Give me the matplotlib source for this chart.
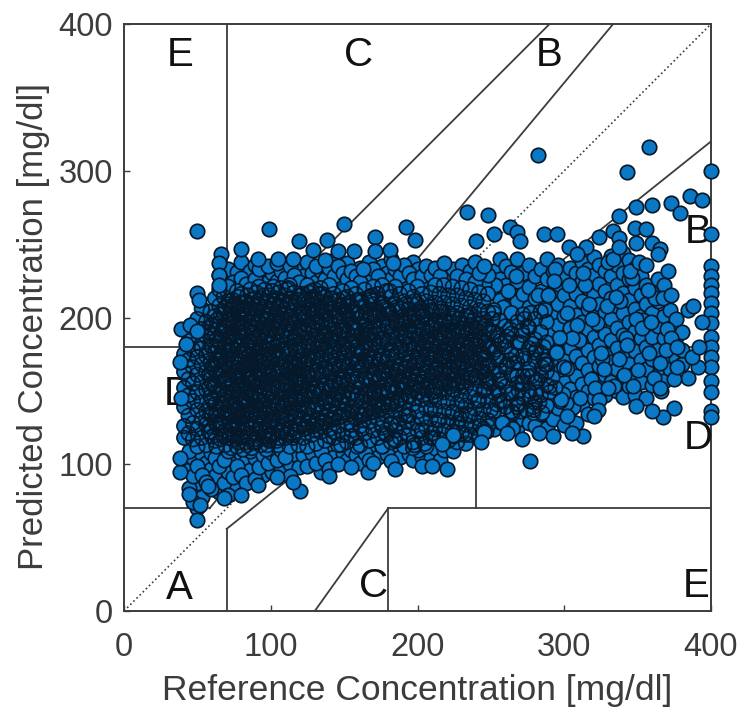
import matplotlib
matplotlib.use("Agg")
import matplotlib.pyplot as plt

plt.rcParams['font.family'] = ['Liberation Sans', 'DejaVu Sans']

GRAY = '#3c3c3c'
FILL = '#0b78c6'
EDGE = '#06192b'
MS = 108
LW = 1.25

# one x value -> the y values seen around it
left_columns = {
    41: [101, 118, 126, 139, 152, 163, 175],
    44: [84, 96, 109, 121, 133, 147, 158, 171, 184],
    47: [76, 92, 104, 117, 128, 143, 155, 166, 178, 188],
    50: [70, 87, 99, 112, 124, 137, 149, 161, 173, 183, 199],
    53: [78, 93, 106, 118, 131, 142, 156, 168, 179, 192, 206],
    56: [88, 101, 113, 127, 136, 151, 163, 174, 187, 197],
    59: [83, 97, 108, 122, 134, 146, 158, 169, 181, 193, 204],
    62: [92, 104, 116, 129, 141, 153, 165, 176, 188, 201, 213],
    65: [81, 99, 111, 124, 137, 148, 160, 172, 183, 196, 208, 219, 229],
    68: [87, 103, 119, 131, 144, 156, 167, 179, 191, 203, 214, 226],
    71: [79, 95, 109, 122, 135, 149, 161, 174, 186, 198, 209, 221, 233],
    74: [91, 105, 117, 128, 142, 154, 166, 178, 189, 201, 212, 224],
    77: [84, 99, 112, 125, 138, 151, 163, 173, 185, 196, 207, 218, 231],
    80: [93, 107, 119, 133, 145, 157, 170, 181, 193, 204, 216, 227, 238],
    83: [87, 102, 115, 128, 140, 152, 164, 176, 188, 199, 211, 223],
    86: [96, 109, 121, 134, 147, 159, 171, 183, 194, 206, 219, 232],
    89: [90, 104, 117, 130, 142, 155, 167, 178, 190, 202, 213, 226, 236],
    92: [98, 111, 124, 137, 149, 161, 173, 185, 197, 209, 221, 233],
    95: [93, 106, 119, 131, 143, 156, 168, 180, 192, 203, 215, 228],
    98: [101, 113, 126, 139, 151, 163, 175, 187, 199, 211, 224, 235],
    101: [95, 108, 121, 134, 146, 158, 170, 182, 194, 206, 218, 230],
    104: [103, 116, 128, 141, 153, 165, 177, 189, 201, 213, 225, 237],
    107: [97, 110, 123, 136, 148, 160, 172, 184, 196, 208, 220, 232],
    110: [105, 118, 130, 143, 155, 167, 179, 191, 203, 215, 227],
    113: [92, 100, 112, 125, 138, 150, 162, 174, 186, 198, 210, 222, 235],
    116: [107, 120, 132, 145, 157, 169, 181, 193, 205, 217, 229],
    119: [98, 113, 127, 140, 152, 164, 176, 188, 200, 212, 224, 236],
}
middle_columns = {
    122: [106, 118, 131, 144, 156, 168, 180, 192, 204, 216, 228],
    125: [99, 112, 125, 138, 150, 162, 174, 186, 198, 210, 222, 238],
    128: [108, 120, 133, 146, 158, 170, 182, 194, 206, 218, 230],
    131: [101, 114, 127, 140, 152, 164, 176, 188, 200, 212, 224, 235],
    134: [95, 109, 122, 135, 148, 160, 172, 184, 196, 208, 220, 232],
    137: [103, 116, 129, 142, 154, 166, 178, 190, 202, 214, 226],
    140: [97, 111, 124, 137, 150, 162, 174, 186, 198, 210, 222, 234],
    143: [105, 118, 131, 144, 156, 168, 180, 192, 204, 216, 228, 239],
    146: [100, 113, 126, 139, 152, 164, 176, 188, 200, 212, 224, 235],
    149: [108, 120, 133, 146, 158, 170, 182, 194, 206, 218, 230],
    152: [103, 115, 128, 141, 154, 166, 178, 190, 202, 214, 226, 237],
    155: [98, 110, 123, 136, 148, 160, 172, 184, 196, 208, 220, 232],
    158: [106, 118, 131, 144, 156, 168, 180, 192, 204, 216, 228],
    161: [101, 113, 126, 139, 152, 164, 176, 188, 200, 212, 224, 234],
    164: [108, 121, 134, 147, 159, 171, 183, 195, 207, 219, 231],
    167: [103, 116, 129, 142, 154, 166, 178, 190, 202, 214, 226, 238],
    170: [110, 123, 136, 149, 161, 173, 185, 197, 209, 221, 233],
    173: [105, 118, 131, 144, 156, 168, 180, 192, 204, 216, 228],
    176: [112, 125, 138, 150, 162, 174, 186, 198, 210, 222, 235],
    179: [107, 120, 133, 146, 158, 170, 182, 194, 206, 218, 230],
    182: [102, 115, 128, 141, 154, 166, 178, 190, 202, 214, 226, 240],
    185: [110, 123, 136, 149, 161, 173, 185, 197, 209, 221, 233],
    188: [105, 118, 131, 144, 156, 168, 180, 192, 204, 216, 228],
    191: [112, 125, 138, 151, 163, 175, 187, 199, 211, 223, 236],
    194: [107, 120, 133, 146, 158, 170, 182, 194, 206, 218, 230],
    197: [103, 115, 128, 141, 154, 166, 178, 190, 202, 214, 226, 238],
    200: [110, 123, 136, 149, 161, 173, 185, 197, 209, 221, 233],
    203: [99, 105, 118, 131, 144, 156, 168, 180, 192, 204, 216, 228],
    206: [112, 125, 138, 151, 163, 175, 187, 199, 211, 223, 235],
    209: [104, 118, 131, 144, 157, 169, 181, 193, 205, 217, 229],
    212: [111, 124, 137, 150, 162, 174, 186, 198, 210, 222, 234],
    215: [103, 117, 130, 143, 156, 168, 180, 192, 204, 216, 228],
    218: [110, 123, 136, 149, 162, 174, 186, 198, 210, 222, 237],
    221: [116, 129, 142, 155, 167, 179, 191, 203, 215, 227],
    224: [109, 122, 135, 148, 161, 173, 185, 197, 209, 221, 233],
    227: [115, 128, 141, 154, 167, 179, 191, 203, 215, 228],
    230: [121, 134, 147, 160, 172, 184, 196, 208, 220, 236],
    233: [114, 127, 140, 153, 165, 177, 189, 201, 213, 226],
    236: [120, 133, 146, 159, 171, 183, 195, 207, 219, 232],
    239: [125, 138, 151, 164, 176, 188, 200, 212, 224, 238],
    242: [118, 131, 144, 157, 169, 181, 193, 205, 217, 230],
    245: [124, 137, 150, 163, 175, 187, 199, 211, 223, 235],
    248: [130, 143, 156, 168, 180, 192, 204, 216, 229],
}
right_columns = {
    252: [124, 136, 149, 162, 176, 190, 203, 217, 232],
    256: [129, 143, 157, 171, 184, 198, 212, 226, 240],
    260: [126, 139, 153, 166, 180, 194, 208, 222, 235],
    264: [134, 148, 161, 175, 189, 203, 217, 231],
    268: [125, 141, 155, 169, 183, 197, 211, 225, 240],
    272: [131, 145, 160, 174, 188, 202, 216, 230],
    276: [128, 150, 165, 179, 193, 207, 221, 236],
    280: [126, 142, 156, 171, 185, 199, 213, 228],
    284: [134, 147, 161, 176, 190, 204, 218, 233],
    288: [125, 140, 154, 168, 183, 197, 211, 226, 240],
    292: [131, 146, 160, 175, 189, 203, 217, 232],
    296: [138, 152, 167, 181, 195, 209, 223, 236],
    300: [127, 144, 158, 172, 187, 201, 215, 229],
    304: [137, 151, 165, 179, 193, 208, 222, 234],
    308: [128, 146, 160, 174, 188, 202, 216, 230],
    312: [141, 155, 169, 183, 197, 211, 225, 238],
    316: [134, 150, 164, 178, 192, 206, 220, 233],
    320: [145, 159, 173, 187, 201, 215, 229, 241],
    324: [153, 167, 181, 195, 209, 223, 236],
    328: [147, 161, 175, 189, 204, 218, 232],
    332: [156, 170, 185, 199, 213, 228, 242],
    336: [150, 165, 179, 193, 208, 222, 236],
    340: [146, 159, 173, 188, 203, 217, 230, 244],
    344: [153, 168, 182, 197, 212, 226, 239],
    348: [147, 162, 177, 191, 206, 220, 234],
    352: [156, 171, 186, 201, 215, 228],
    356: [145, 165, 180, 195, 209, 222],
    360: [154, 172, 187, 203, 217],
    364: [161, 178, 194, 211, 226],
    368: [157, 170, 186, 201, 222],
    372: [165, 180, 193, 205],
    376: [172, 187, 199],
    380: [168, 178, 190],
}

# the black middle of the cloud, outlines stay visible here
core_columns = {
    58: [126, 139, 152, 161, 176, 190],
    60: [119, 133, 144, 155, 166, 180, 195],
    63: [112, 127, 136, 149, 162, 171, 185, 198],
    66: [117, 129, 142, 151, 164, 175, 189, 202],
    69: [113, 123, 135, 147, 158, 169, 182, 194, 207],
    72: [118, 128, 140, 153, 165, 177, 186, 199, 211],
    73: [111, 124, 133, 146, 157, 172, 181, 193, 205],
    75: [120, 130, 139, 150, 162, 170, 184, 197, 209],
    78: [115, 126, 137, 148, 159, 168, 180, 191, 202, 214],
    79: [118, 131, 141, 153, 164, 175, 187, 199, 210],
    81: [110, 122, 134, 144, 155, 166, 177, 186, 196, 206],
    84: [113, 127, 136, 149, 160, 169, 181, 192, 203, 215],
    85: [119, 130, 141, 151, 162, 174, 184, 197, 208],
    87: [111, 124, 135, 146, 156, 168, 179, 189, 200, 212],
    90: [115, 128, 138, 148, 159, 172, 182, 193, 205, 217],
    91: [121, 133, 144, 153, 165, 176, 187, 198, 209],
    93: [113, 126, 136, 147, 158, 169, 180, 190, 201, 213],
    96: [118, 129, 140, 151, 162, 173, 184, 195, 207, 219],
    97: [110, 123, 134, 145, 155, 166, 178, 188, 199, 211],
    99: [116, 127, 138, 149, 160, 171, 182, 192, 204, 215],
    102: [120, 131, 142, 153, 164, 175, 186, 197, 209, 221],
    105: [118, 129, 140, 151, 162, 172, 183, 194, 206, 217],
    108: [122, 133, 144, 155, 166, 177, 188, 199, 211],
    111: [120, 131, 142, 153, 164, 175, 186, 196, 208, 219],
    114: [124, 135, 146, 157, 168, 179, 190, 201, 213],
    117: [122, 133, 144, 155, 166, 177, 188, 198, 210],
    120: [126, 137, 148, 159, 170, 181, 192, 203, 215],
    123: [124, 135, 146, 157, 168, 179, 190, 200, 212],
    126: [128, 139, 150, 161, 172, 183, 194, 205, 217],
    129: [126, 137, 148, 159, 170, 181, 192, 202, 214],
    132: [130, 141, 152, 163, 174, 185, 196, 207],
    135: [128, 139, 150, 161, 172, 183, 194, 204, 216],
    138: [132, 143, 154, 165, 176, 187, 198, 209],
    141: [130, 141, 152, 163, 174, 185, 196, 206],
    144: [134, 145, 156, 167, 178, 189, 200, 211],
    147: [132, 143, 154, 165, 176, 187, 198, 208],
    150: [136, 147, 158, 169, 180, 191, 202, 213],
    153: [134, 145, 156, 167, 178, 189, 200, 210],
    156: [138, 149, 160, 171, 182, 193, 204],
    159: [136, 147, 158, 169, 180, 191, 202, 212],
    162: [133, 145, 156, 167, 178, 189, 200, 211],
    165: [137, 148, 159, 170, 181, 192, 203],
    168: [135, 146, 157, 168, 179, 190, 201, 212],
    171: [139, 150, 161, 172, 183, 194, 205],
    174: [137, 148, 159, 170, 181, 192, 203],
    177: [141, 152, 163, 174, 185, 196, 207],
    180: [139, 150, 161, 172, 183, 194, 205],
    183: [143, 154, 165, 176, 187, 198],
    186: [141, 152, 163, 174, 185, 196, 207],
    189: [145, 156, 167, 178, 189, 200],
    192: [143, 154, 165, 176, 187, 198, 209],
    195: [147, 158, 169, 180, 191, 202],
    198: [145, 156, 167, 178, 189, 200, 211],
    201: [149, 160, 171, 182, 193, 204],
    204: [147, 158, 169, 180, 191, 202],
    207: [151, 162, 173, 184, 195],
    210: [149, 160, 171, 182, 193, 204],
    213: [153, 164, 175, 186, 197],
    216: [151, 162, 173, 184, 195, 206],
    219: [155, 166, 177, 188, 199],
    222: [153, 164, 175, 186, 197],
    225: [157, 168, 179, 190, 201],
    228: [155, 166, 177, 188, 199],
    231: [159, 170, 181, 192],
    234: [157, 168, 179, 190, 201],
    237: [161, 172, 183, 194],
    240: [159, 170, 181, 192],
    243: [163, 174, 185, 196],
    246: [161, 172, 183, 194],
    249: [155, 168, 179, 190],
}

# scattered by hand over the dark area, breaks up the rows of the columns
scatter_ref = [63, 148, 211, 97, 254, 176, 122, 83, 233, 159, 71, 268, 191, 108, 224, 139, 287, 67, 203, 116,
               249, 171, 93, 278, 155, 218, 76, 130, 262, 187, 102, 241, 166, 58, 295, 144, 208, 88, 256, 126,
               181, 229, 74, 272, 151, 113, 197, 247, 135, 61, 283, 168, 216, 99, 238, 119, 264, 184, 80, 300,
               146, 206, 105, 252, 173, 65, 226, 133, 290, 194, 86, 243, 157, 275, 110, 214, 69, 260, 178, 124,
               236, 95, 200, 142, 281, 162, 78, 250, 189, 115, 221, 137, 267, 91, 231, 153, 297, 72, 209, 128,
               258, 183, 103, 244, 164, 285, 121, 195, 84, 270, 149, 222, 66, 255, 175, 111, 240, 140, 292, 199,
               89, 228, 160, 277, 107, 213, 131, 263, 186, 76, 247, 169, 98, 234, 145, 302, 205, 118, 273, 155,
               62, 219, 192, 126, 259, 178, 82, 242, 136, 286, 167, 100, 227, 202, 70, 253, 148, 113, 279, 190,
               237, 94, 163, 268, 130, 212, 75, 245, 181, 143, 294, 106, 224, 158, 265, 87, 197, 120, 251, 172,
               64, 232, 152, 282, 109, 207, 134, 261, 185, 79, 239, 166, 96, 274, 147, 217, 123, 256, 193, 68,
               288, 176, 101, 230, 141, 248, 90, 203, 271, 161, 116, 225, 73, 257, 187, 129, 298, 150, 210, 85,
               266, 170, 104, 235, 138, 280, 198, 60, 246, 156, 112, 220, 182, 269, 92, 204, 127, 254, 174, 77]
scatter_pred = [134, 191, 118, 157, 172, 127, 203, 146, 165, 112, 178, 139, 196, 125, 151, 209, 168, 141, 123, 186,
                158, 202, 132, 182, 119, 173, 160, 197, 149, 128, 211, 143, 188, 122, 176, 135, 207, 115, 164, 154,
                218, 131, 189, 155, 204, 145, 162, 122, 180, 168, 142, 214, 156, 127, 198, 171, 136, 117, 199, 166,
                148, 183, 113, 205, 140, 129, 174, 216, 153, 133, 175, 126, 193, 160, 150, 130, 207, 184, 121, 169,
                202, 138, 169, 185, 149, 124, 163, 137, 206, 118, 190, 145, 174, 205, 156, 178, 186, 120, 137, 212,
                128, 154, 177, 167, 194, 135, 146, 200, 125, 183, 141, 162, 171, 151, 209, 131, 181, 119, 159, 152,
                186, 125, 170, 146, 202, 166, 123, 192, 143, 136, 157, 215, 117, 176, 201, 165, 114, 159, 172, 127,
                154, 197, 133, 180, 143, 164, 210, 120, 188, 171, 149, 129, 161, 206, 193, 178, 113, 169, 139, 156,
                191, 174, 130, 160, 219, 147, 126, 175, 203, 122, 152, 196, 136, 184, 124, 168, 111, 155, 199, 142,
                178, 120, 208, 157, 140, 187, 126, 168, 116, 150, 185, 173, 121, 137, 159, 204, 192, 147, 129, 195,
                163, 112, 183, 143, 213, 126, 173, 156, 191, 134, 167, 119, 135, 182, 160, 204, 144, 176, 121, 158,
                169, 148, 198, 134, 165, 176, 113, 189, 151, 187, 220, 177, 127, 141, 163, 201, 131, 186, 158, 124]

# looser points on the right half, drawn after the columns to break them up
extra_ref = [254, 258, 263, 267, 271, 275, 279, 282, 286, 290, 294, 298, 302, 306, 310, 314, 318, 322, 326, 330,
             334, 338, 342, 346, 350, 354, 358, 362, 366, 370, 253, 261, 269, 277, 285, 293, 301, 309, 317, 325,
             333, 341, 349, 357, 365, 373, 257, 265, 273, 281, 289, 297, 305, 313, 321, 329, 337, 345, 353, 361,
             369, 377, 255, 262, 270, 278, 287, 295, 303, 311, 319, 327, 335, 343, 351, 359, 367, 263, 279, 299]
extra_pred = [141, 207, 171, 228, 156, 194, 137, 215, 180, 149, 233, 165, 203, 139, 185, 222, 158, 196, 172, 238,
              153, 211, 186, 227, 164, 198, 176, 213, 150, 192, 222, 187, 150, 203, 166, 225, 142, 195, 209, 176,
              240, 161, 199, 219, 169, 186, 158, 135, 199, 178, 215, 143, 186, 230, 152, 208, 172, 232, 193, 159,
              178, 180, 188, 218, 136, 160, 205, 177, 222, 145, 199, 165, 214, 181, 238, 197, 213, 124, 135, 148]

# points along the outline of the cloud, readable one by one
outline_ref = [50, 47, 52, 44, 38, 38, 57, 68, 80, 91, 104, 120, 115, 140, 166, 170, 185,
               50, 99, 119, 138, 150, 171, 192, 198, 80, 66, 65, 65, 65, 50, 51, 39, 45, 50, 38, 39, 42,
               91, 105, 115, 129, 137, 146, 157, 171, 181, 183, 163,
               282, 358, 343, 386, 394, 373, 379, 360, 349, 337, 234, 248, 252, 240, 263, 268, 270,
               286, 295, 303, 315, 309, 324, 333, 337, 337, 348, 356, 349, 360, 365, 364, 356, 371,
               373, 384, 388, 394, 375, 367, 360, 349, 384, 375, 377, 391, 387, 392, 365, 347, 330,
               324, 323, 320, 302, 313, 305, 292, 283, 271, 261, 277, 245, 243, 224, 217, 210, 220]
outline_pred = [62, 74, 72, 80, 95, 104, 85, 77, 79, 86, 91, 82, 88, 92, 95, 101, 97,
                259, 260, 252, 253, 264, 255, 262, 253, 247, 243, 237, 229, 222, 217, 212, 192, 195, 191, 170, 145, 182,
                240, 240, 240, 246, 239, 245, 245, 245, 246, 237, 233,
                311, 316, 299, 283, 280, 278, 271, 277, 275, 269, 272, 270, 257, 252, 262, 258, 252,
                257, 257, 248, 248, 243, 255, 259, 254, 248, 261, 260, 251, 251, 247, 243, 236, 232,
                215, 205, 208, 197, 138, 132, 136, 140, 159, 158, 166, 166, 173, 180, 152, 153, 152,
                144, 137, 133, 133, 119, 121, 119, 121, 117, 121, 102, 122, 115, 120, 114, 99, 97]

# the column of points stuck at the right limit
edge_pred = [300, 257, 235, 228, 222, 217, 210, 203, 196, 187, 180, 173, 166, 157, 149, 136, 132]
edge_ref = [400] * len(edge_pred)

zone_labels = ['E', 'C', 'B', 'B', 'D', 'D', 'A', 'C', 'E']
zone_ref = [38, 160, 290, 391, 37, 391, 38, 170, 390]
zone_pred = [379, 379, 379, 258, 148, 118, 16, 17, 17]

# Clarke grid
grid_x = [[0, 175 / 3], [175 / 3, 400 / 1.2], [70, 70], [0, 70], [70, 290], [70, 70],
          [70, 400], [180, 180], [180, 400], [240, 240], [240, 400], [130, 180]]
grid_y = [[70, 70], [70, 400], [84, 400], [180, 180], [180, 400], [0, 56],
          [56, 320], [0, 70], [70, 70], [70, 180], [180, 180], [0, 70]]


def flatten(columns):
    xs, ys = [], []
    for cx, vals in columns.items():
        xs += [cx] * len(vals)
        ys += vals
    return xs, ys


fig = plt.figure(figsize=(7.4, 7.1), dpi=100)
ax = fig.add_axes([124 / 740, 99 / 710, 587 / 740, 587 / 710])

ax.plot([0, 400], [0, 400], color=GRAY, ls=':', lw=1.2, zorder=1)
for gx, gy in zip(grid_x, grid_y):
    ax.plot(gx, gy, color=GRAY, lw=1.3, zorder=1)

for lab, zx, zy in zip(zone_labels, zone_ref, zone_pred):
    ax.text(zx, zy, lab, fontsize=29, color='#111111', ha='center', va='center', zorder=2)

# all rings over all fills in the middle, this is what makes it go black
ring_x, ring_y = flatten(core_columns)
ring_x = ring_x + scatter_ref
ring_y = ring_y + scatter_pred
outer_x, outer_y = [], []
for columns in (left_columns, middle_columns):
    xs, ys = flatten(columns)
    for cx, cy in zip(xs, ys):
        if 112 <= cy <= 222:
            ring_x.append(cx)
            ring_y.append(cy)
        else:
            outer_x.append(cx)
            outer_y.append(cy)

# right half goes lighter, only its left part joins the rings
right_x, right_y = flatten(right_columns)
right_x = right_x + extra_ref
right_y = right_y + extra_pred
loose_x, loose_y = [], []
for cx, cy in zip(right_x, right_y):
    if cx <= 290 and 135 <= cy <= 205:
        ring_x.append(cx)
        ring_y.append(cy)
    else:
        loose_x.append(cx)
        loose_y.append(cy)

ax.scatter(loose_x, loose_y, s=MS, c=FILL, edgecolors=EDGE, linewidths=LW, zorder=3)
ax.scatter(outer_x[::2], outer_y[::2], s=MS, c=FILL, edgecolors=EDGE, linewidths=LW, zorder=3.2)
ax.scatter(outer_x[1::2], outer_y[1::2], s=MS, c=FILL, edgecolors=EDGE, linewidths=LW, zorder=3.3)

ax.scatter(ring_x, ring_y, s=MS, c=FILL, edgecolors='none', zorder=3.5)
ax.scatter(ring_x, ring_y, s=MS, facecolors='none', edgecolors=EDGE, linewidths=1.3, alpha=0.95, zorder=3.6)

ax.scatter(edge_ref, edge_pred, s=MS, c=FILL, edgecolors=EDGE, linewidths=LW, zorder=4, clip_on=False)
ax.scatter(outline_ref, outline_pred, s=MS, c=FILL, edgecolors=EDGE, linewidths=LW, zorder=4, clip_on=False)

ax.set_xlim(0, 400)
ax.set_ylim(0, 400)
ax.set_xticks([0, 100, 200, 300, 400])
ax.set_yticks([0, 100, 200, 300, 400])
ax.tick_params(axis='x', pad=15)
ax.tick_params(axis='y', pad=8)
ax.tick_params(direction='in', length=4, width=1, color=GRAY, labelcolor=GRAY, labelsize=23.5)
for s in ax.spines.values():
    s.set_color(GRAY)
    s.set_linewidth(1.4)
    s.set_zorder(1.5)
ax.set_xlabel('Reference Concentration [mg/dl]', fontsize=25.5, color=GRAY, labelpad=8)
ax.set_ylabel('Predicted Concentration [mg/dl]', fontsize=25, color=GRAY, labelpad=6, y=0.484)

fig.savefig('out.png', dpi=100)
